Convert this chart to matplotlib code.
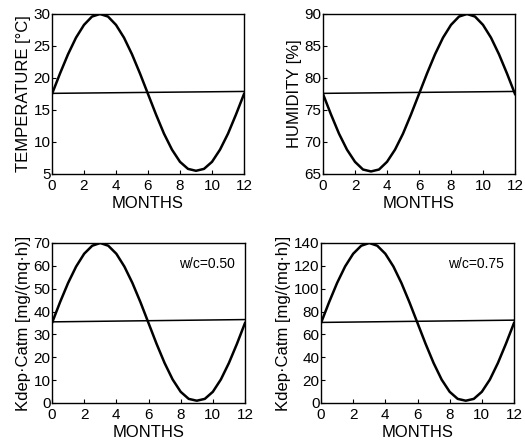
import numpy as np
import matplotlib
matplotlib.use("Agg")
import matplotlib.pyplot as plt

plt.rcParams['font.family'] = ['Liberation Sans', 'DejaVu Sans']

# valori, ogni mezzo mese
mesi = [0, 0.5, 1, 1.5, 2, 2.5, 3, 3.5, 4, 4.5, 5, 5.5, 6,
        6.5, 7, 7.5, 8, 8.5, 9, 9.5, 10, 10.5, 11, 11.5, 12]
temperatura = [17.5, 20.7, 23.7, 26.3, 28.3, 29.6, 30.0, 29.6, 28.3, 26.3, 23.7, 20.7, 17.5,
               14.3, 11.3, 8.8, 6.9, 5.8, 5.5, 5.8, 6.9, 8.8, 11.3, 14.3, 17.5]
umidita = [77.5, 74.3, 71.3, 68.8, 66.9, 65.7, 65.4, 65.7, 66.9, 68.8, 71.3, 74.3, 77.5,
           80.7, 83.7, 86.3, 88.3, 89.6, 90.0, 89.6, 88.3, 86.3, 83.7, 80.7, 77.5]
kdep_050 = [35.0, 44.1, 52.5, 59.7, 65.3, 68.8, 70.0, 68.8, 65.3, 59.7, 52.5, 44.1, 35.0,
            25.9, 17.5, 10.3, 4.9, 1.8, 1.0, 1.8, 4.9, 10.3, 17.5, 25.9, 35.0]
kdep_075 = [70.0, 88.1, 105.0, 119.5, 130.6, 137.6, 140.0, 137.6, 130.6, 119.5, 105.0, 88.1, 70.0,
            51.9, 35.0, 20.5, 9.8, 3.6, 2.0, 3.6, 9.8, 20.5, 35.0, 51.9, 70.0]

# linea orizzontale (leggermente inclinata nella scansione)
medie_inizio = [17.6, 77.6, 35.5, 70.5]
medie_fine = [17.9, 77.9, 36.5, 72.5]
ylim = [(5, 30), (65, 90), (0, 70), (0, 140)]
yticks = [np.arange(5, 31, 5), np.arange(65, 91, 5), np.arange(0, 71, 10), np.arange(0, 141, 20)]
etichette_y = ['TEMPERATURE [°C]', 'HUMIDITY [%]',
               'Kdep·Catm [mg/(mq·h)]', 'Kdep·Catm [mg/(mq·h)]']
testi_wc = [None, None, 'w/c=0.50', 'w/c=0.75']
serie = [temperatura, umidita, kdep_050, kdep_075]

W, H = 525, 442
# posizioni in pixel: sinistra, destra, alto, basso
riquadri = [(52, 244, 14, 174), (323, 515, 14, 174),
            (52, 245, 243, 403), (321, 514, 243, 403)]

fig = plt.figure(figsize=(W / 100, H / 100), dpi=100)

for i in range(4):
    l, r, t, b = riquadri[i]
    ax = fig.add_axes([l / W, 1 - b / H, (r - l) / W, (b - t) / H])
    ax.plot(mesi, serie[i], color='black', lw=1.8)
    ax.plot([0, 12], [medie_inizio[i], medie_fine[i]], color='black', lw=1.1)
    ax.set_xlim(0, 12)
    ax.set_ylim(*ylim[i])
    ax.set_xticks(np.arange(0, 13, 2))
    ax.set_yticks(yticks[i])
    ax.tick_params(direction='in', length=3, width=0.8, labelsize=11,
                   top=False, right=False)
    ax.tick_params(axis='x', pad=3.5)
    ax.tick_params(axis='y', pad=1)
    for s in ax.spines.values():
        s.set_linewidth(1.0)
    ax.set_xlabel('MONTHS', fontsize=12, labelpad=2)
    ax.set_ylabel(etichette_y[i], fontsize=12, labelpad=2)
    if testi_wc[i]:
        ax.text(0.95, 0.87, testi_wc[i], transform=ax.transAxes,
                ha='right', va='center', fontsize=10)

fig.savefig('out.png', dpi=100)
